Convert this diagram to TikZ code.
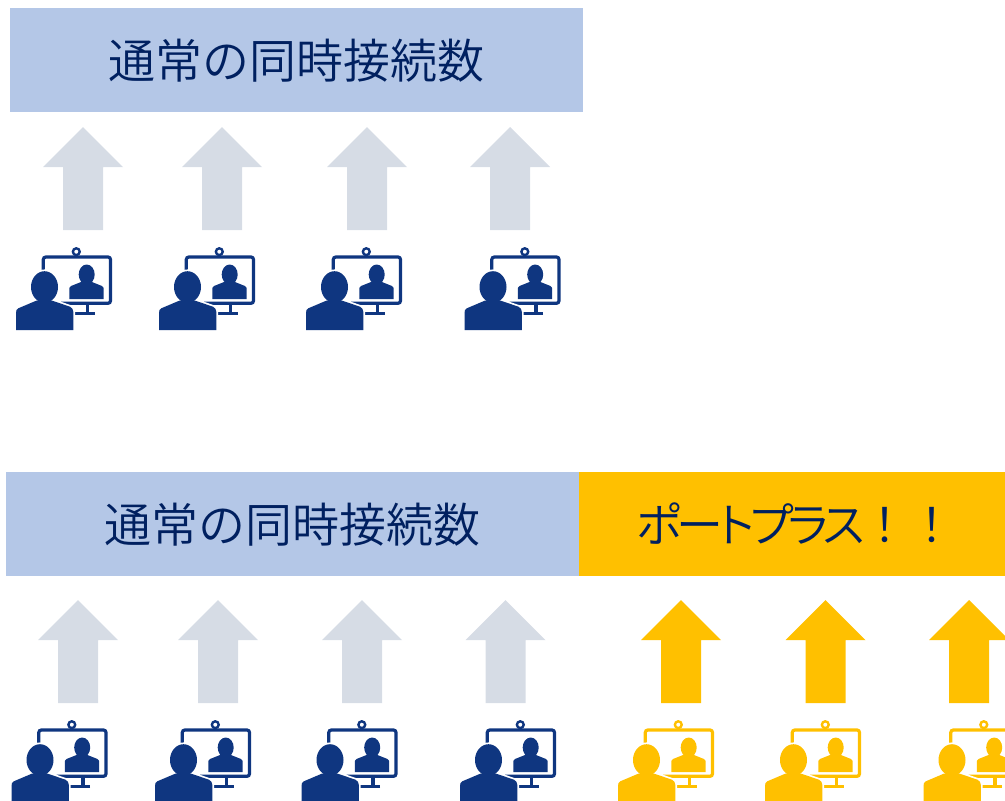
\documentclass[tikz,border=0pt]{standalone}
\usepackage{fontspec}
\newfontfamily\jpfont{Noto Sans CJK JP DemiLight}
\newfontfamily\jpkana[RawFeature=+palt,LetterSpace=-10.5]{Noto Sans CJK JP DemiLight}
\definecolor{headblue}{HTML}{B4C7E7}
\definecolor{plusyellow}{HTML}{FFC000}
\definecolor{arrowgray}{HTML}{D6DCE5}
\definecolor{iconblue}{HTML}{0F3680}
\definecolor{textnavy}{HTML}{002060}
\newcommand{\bigbody}{(0,0) -- (0,-16.7) .. controls (0,-19.5) and (0.5,-21) .. (2.3,-21.7) -- (20.7,-29.5) -- (35.7,-29.5) -- (54,-23.3) .. controls (56,-22.3) and (57.3,-20.5) .. (57.3,-18.3) -- (57.3,0) -- cycle}
\newcommand{\bighead}{(28.5,-43) ellipse (13.5 and 15.8)}
\tikzset{
  headbox/.style={fill=#1,inner sep=0pt,minimum height=104,text height=37,text depth=0,text=textnavy,font=\jpfont\fontsize{47}{47}\selectfont},
  pics/uparrow/.style={code={
    \fill [#1] (0,0) -- (40,40) -- (20,40) -- (20,103) -- (-20,103) -- (-20,40) -- (-40,40) -- cycle;
  }},
  pics/usericon/.style={code={
    % screen, stand and camera
    \draw [#1,line width=3.2,rounded corners=2.5] (27.3,-60) -- (27.3,-73) -- (94.5,-73) -- (94.5,-26.7) -- (45,-26.7);
    \fill [#1] (69.8,-26.7) rectangle (73,-16);
    \draw [#1,line width=3.2] (78.7,-16.5) -- (58,-16.5);
    \draw [#1,line width=2.4] (60.3,-78.3) circle (3.4);
    % person on the screen
    \fill [#1] (53.3,-31) -- (53.3,-42) -- (55,-44) -- (65,-48) -- (76,-48) -- (86,-44) -- (87.7,-42) -- (87.7,-31) -- cycle;
    \fill [#1] (70.7,-55.5) ellipse (8 and 10);
    % person in front
    \draw [white,line width=3.5] \bigbody;
    \draw [white,line width=3.5] \bighead;
    \fill [#1] \bigbody;
    \fill [#1] \bighead;
  }}
}
\begin{document}
\begin{tikzpicture}[x=1pt,y=-1pt]
  \useasboundingbox (0,0) rectangle (1005,801);
  \clip (0,0) rectangle (1005,801);
  % upper group
  \node [headbox=headblue,minimum width=573] (topbox) at (296.5,60) {通常の同時接続数};
  \pic (topup1) at (83,127) {uparrow=arrowgray};
  \pic (topup2) at (222,127) {uparrow=arrowgray};
  \pic (topup3) at (367,127) {uparrow=arrowgray};
  \pic (topup4) at (510,127) {uparrow=arrowgray};
  \pic (topuser1) at (16,330) {usericon=iconblue};
  \pic (topuser2) at (159,330) {usericon=iconblue};
  \pic (topuser3) at (306,330) {usericon=iconblue};
  \pic (topuser4) at (464.5,330) {usericon=iconblue};
  % lower group
  \node [headbox=headblue,minimum width=573] (lowbox) at (292.5,524) {通常の同時接続数};
  \node [headbox=plusyellow,minimum width=426] (plusbox) at (792,524) {\hspace*{8pt}{\jpkana ポートプラス}\hspace{-4pt}！！};
  \pic (lowup1) at (78,600) {uparrow=arrowgray};
  \pic (lowup2) at (218,600) {uparrow=arrowgray};
  \pic (lowup3) at (362,600) {uparrow=arrowgray};
  \pic (lowup4) at (505.5,600) {uparrow=arrowgray};
  \pic (plusup1) at (681,600) {uparrow=plusyellow};
  \pic (plusup2) at (825.5,600) {uparrow=plusyellow};
  \pic (plusup3) at (969,600) {uparrow=plusyellow};
  \pic (lowuser1) at (11.5,803) {usericon=iconblue};
  \pic (lowuser2) at (155,803) {usericon=iconblue};
  \pic (lowuser3) at (301.5,803) {usericon=iconblue};
  \pic (lowuser4) at (460,803) {usericon=iconblue};
  \pic (plususer1) at (618,803) {usericon=plusyellow};
  \pic (plususer2) at (765,803) {usericon=plusyellow};
  \pic (plususer3) at (923.5,803) {usericon=plusyellow};
\end{tikzpicture}
\end{document}
